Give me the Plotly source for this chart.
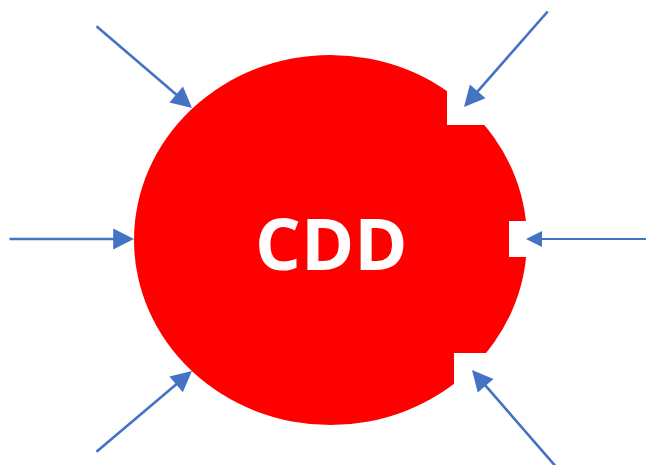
import plotly.graph_objects as go

W, H = 646, 465

# Diagram geometry (pixel space, y downwards)
ellipse_box = [134, 55, 527, 425]  # x0, y0, x1, y1
ellipse_color = "#FF0000"
label_text = "CDD"
label_pos = [331, 242]

# White notches on the right side of the ellipse: x0, y0, x1, y1
notches = [
    [447, 80, 500, 125],
    [509, 221, 535, 257],
    [454, 353, 500, 415],
]

# Arrows: start (tail) and end (tip)
arrow_tail_x = [95, 8, 95, 549, 656, 558]
arrow_tail_y = [25, 239, 453, 10, 239, 469]
arrow_tip_x = [192, 134, 192, 464, 526, 472]
arrow_tip_y = [108, 239, 371, 107, 239, 370]
arrow_widths = [2.6, 2.6, 2.6, 2.6, 2.0, 2.6]
arrow_color = "#4472C4"

fig = go.Figure()
fig.add_trace(go.Scatter(x=[0, W], y=[0, H], mode="markers",
                         marker=dict(opacity=0), hoverinfo="skip", showlegend=False))

fig.add_shape(type="circle", xref="x", yref="y",
              x0=ellipse_box[0], y0=ellipse_box[1], x1=ellipse_box[2], y1=ellipse_box[3],
              fillcolor=ellipse_color, line=dict(width=0), layer="below")
for n in notches:
    fig.add_shape(type="rect", xref="x", yref="y", x0=n[0], y0=n[1], x1=n[2], y1=n[3],
                  fillcolor="white", line=dict(width=0), layer="below")

for tx, ty, hx, hy, w in zip(arrow_tail_x, arrow_tail_y, arrow_tip_x, arrow_tip_y, arrow_widths):
    fig.add_annotation(x=hx, y=hy, ax=tx, ay=ty, xref="x", yref="y", axref="x", ayref="y",
                       text="", showarrow=True, arrowhead=2, arrowsize=1.6,
                       arrowwidth=w, arrowcolor=arrow_color, standoff=0)

fig.add_annotation(x=label_pos[0], y=label_pos[1], xref="x", yref="y", text="<b>" + label_text + "</b>",
                   showarrow=False, font=dict(family="Open Sans", size=72, color="white"),
                   xanchor="center", yanchor="middle")

fig.update_layout(width=W, height=H, margin=dict(l=0, r=0, t=0, b=0),
                  paper_bgcolor="white", plot_bgcolor="white",
                  xaxis=dict(range=[0, W], visible=False, fixedrange=True),
                  yaxis=dict(range=[H, 0], visible=False, fixedrange=True),
                  showlegend=False, hovermode=False)

fig.write_html("out.html",
               config={"displayModeBar": False, "staticPlot": True},
               post_script="document.body.style.margin='0';document.body.style.overflow='hidden';")
